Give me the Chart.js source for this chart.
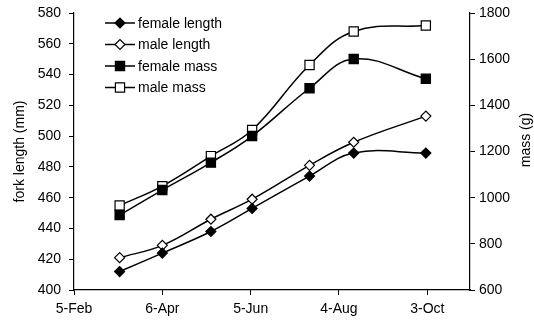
<!DOCTYPE html>
<html>
<head>
<meta charset="utf-8">
<script src="https://cdn.jsdelivr.net/npm/chart.js@4/dist/chart.umd.min.js"></script>
<style>
  html, body { margin: 0; padding: 0; background: #fff; }
  #chart { display: block; }
</style>
</head>
<body>
<canvas id="chart" width="534" height="322"></canvas>
<script>
// days counted from 5-Feb
const sampleDays = [31, 60, 93, 121, 160, 190, 239];
const dateLabels = ['5-Feb', '6-Apr', '5-Jun', '4-Aug', '3-Oct'];

const femaleLength = [412, 424, 438, 453, 474, 489, 489];
const maleLength = [421, 429, 446, 459, 481, 496, 513];
const femaleMass = [925, 1033, 1152, 1267, 1474, 1601, 1515];
const maleMass = [966, 1050, 1180, 1293, 1575, 1720, 1746];

const FONT = 'Liberation Sans, Arial, sans-serif';

function toPoints(vals) {
    return vals.map((v, i) => ({ x: sampleDays[i], y: v }));
}

function makeSet(label, vals, axis, style, radius, fill) {
    return {
        label: label,
        data: toPoints(vals),
        yAxisID: axis,
        borderColor: '#000',
        borderWidth: 1.5,
        tension: 0.4,
        pointStyle: style,
        pointRadius: radius,
        pointBackgroundColor: fill,
        pointBorderColor: '#000',
        pointBorderWidth: 1.2
    };
}

// legend drawn inside the plot, line + marker like the original
const insideLegend = {
    id: 'insideLegend',
    afterDraw(chart) {
        const ctx = chart.ctx;
        ctx.save();
        chart.data.datasets.forEach((ds, i) => {
            const y = 23 + i * 21.5;
            ctx.strokeStyle = '#000';
            ctx.lineWidth = 1.5;
            ctx.beginPath();
            ctx.moveTo(105, y);
            ctx.lineTo(135, y);
            ctx.stroke();
            ctx.fillStyle = ds.pointBackgroundColor;
            ctx.lineWidth = ds.pointBorderWidth;
            Chart.helpers.drawPoint(ctx, { pointStyle: ds.pointStyle, rotation: 0, radius: ds.pointRadius, borderWidth: ds.pointBorderWidth }, 120, y);
            ctx.fillStyle = '#000';
            ctx.font = '14px ' + FONT;
            ctx.textAlign = 'left';
            ctx.textBaseline = 'middle';
            ctx.fillText(ds.label, 138, y + 1);
        });
        // right axis title, reads bottom to top
        ctx.translate(526, 140);
        ctx.rotate(-Math.PI / 2);
        ctx.font = '14px ' + FONT;
        ctx.textAlign = 'center';
        ctx.textBaseline = 'middle';
        ctx.fillText('mass (g)', 0, 0);
        ctx.restore();
    }
};

const axisGrid = { drawOnChartArea: false, drawTicks: true, tickLength: 5, color: '#000', lineWidth: 1 };
const axisBorder = { display: true, color: '#000', width: 1.2 };

new Chart(document.getElementById('chart'), {
    type: 'line',
    data: {
        datasets: [
            makeSet('female length', femaleLength, 'y', 'rectRot', 5, '#000'),
            makeSet('male length', maleLength, 'y', 'rectRot', 5, '#fff'),
            makeSet('female mass', femaleMass, 'y2', 'rect', 6.5, '#000'),
            makeSet('male mass', maleMass, 'y2', 'rect', 6.5, '#fff')
        ]
    },
    options: {
        responsive: false,
        animation: false,
        devicePixelRatio: 1,
        layout: { padding: { top: 13, left: 0, right: 0, bottom: 0 } },
        plugins: { legend: { display: false }, tooltip: { enabled: false } },
        scales: {
            x: {
                type: 'linear',
                min: 0,
                max: 269,
                grid: axisGrid,
                border: axisBorder,
                ticks: {
                    stepSize: 60,
                    includeBounds: false,
                    autoSkip: false,
                    maxRotation: 0,
                    padding: 6,
                    color: '#000',
                    font: { family: FONT, size: 14 },
                    callback: v => dateLabels[v / 60]
                },
                afterFit: s => { s.height = 32; s.paddingLeft = 0; s.paddingRight = 0; }
            },
            y: {
                position: 'left',
                min: 400,
                max: 580,
                grid: axisGrid,
                border: axisBorder,
                ticks: { stepSize: 20, padding: 8, color: '#000', font: { family: FONT, size: 14 }, callback: v => String(v) },
                title: { display: true, text: 'fork length (mm)', color: '#000', font: { family: FONT, size: 14 }, padding: { top: 12, bottom: 0 } },
                afterFit: s => { s.width = 74; s.paddingTop = 0; s.paddingBottom = 0; }
            },
            y2: {
                position: 'right',
                min: 600,
                max: 1800,
                grid: axisGrid,
                border: axisBorder,
                ticks: { stepSize: 200, padding: 4, color: '#000', font: { family: FONT, size: 14 }, callback: v => String(v) },
                afterFit: s => { s.width = 64; s.paddingTop = 0; s.paddingBottom = 0; }
            }
        }
    },
    plugins: [insideLegend]
});
</script>
</body>
</html>
